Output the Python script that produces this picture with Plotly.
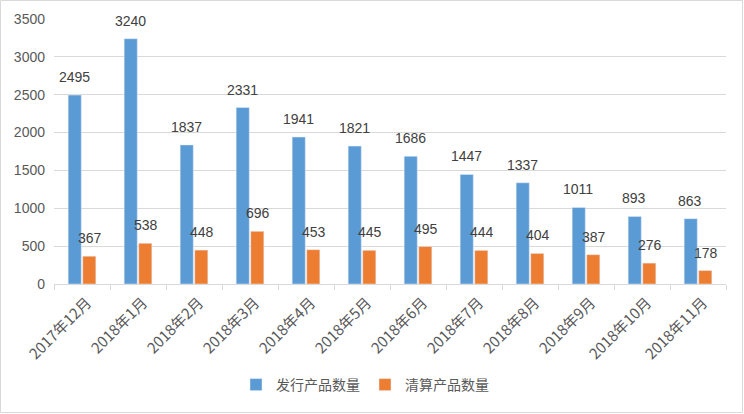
import plotly.graph_objects as go

categories = ["2017年12月", "2018年1月", "2018年2月", "2018年3月", "2018年4月", "2018年5月",
              "2018年6月", "2018年7月", "2018年8月", "2018年9月", "2018年10月", "2018年11月"]
issued = [2495, 3240, 1837, 2331, 1941, 1821, 1686, 1447, 1337, 1011, 893, 863]
cleared = [367, 538, 448, 696, 453, 445, 495, 444, 404, 387, 276, 178]
series_names = ["发行产品数量", "清算产品数量"]

W, H = 744, 414
ML, MR, MT, MB = 54, 18, 19, 130
PW, PH = W - ML - MR, H - MT - MB

font_cjk = "Noto Sans CJK SC, Liberation Sans, sans-serif"

fig = go.Figure()
fig.add_trace(go.Bar(x=categories, y=issued, name=series_names[0], marker_color="#5B9BD5"))
fig.add_trace(go.Bar(x=categories, y=cleared, name=series_names[1], marker_color="#ED7D31"))

annotations = []
for c, v in zip(categories, issued):
    annotations.append(dict(x=c, y=v, text=str(v), showarrow=False, xshift=-8, yshift=18,
                            font=dict(size=14, color="#404040", family="Liberation Sans")))
for c, v in zip(categories, cleared):
    annotations.append(dict(x=c, y=v, text=str(v), showarrow=False, xshift=8, yshift=18,
                            font=dict(size=14, color="#404040", family="Liberation Sans")))

fig.update_layout(
    width=W, height=H,
    margin=dict(l=ML, r=MR, t=MT, b=MB),
    paper_bgcolor="white", plot_bgcolor="white",
    barmode="group", bargap=0.48, bargroupgap=0.1,
    annotations=annotations,
    showlegend=True,
    legend=dict(orientation="h", x=(365 - ML) / PW, xanchor="center", y=(MT + PH - 385) / PH,
                yanchor="middle", font=dict(size=14, color="#595959", family=font_cjk),
                itemwidth=30, tracegroupgap=0),
    shapes=[dict(type="rect", xref="paper", yref="paper",
                 x0=(-ML + 0.5) / PW, x1=1 + (MR - 1.5) / PW,
                 y0=(-MB + 1.5) / PH, y1=1 + (MT - 0.5) / PH,
                 line=dict(color="#D9D9D9", width=1), layer="below")],
)
fig.update_xaxes(type="category", showline=True, linecolor="#D9D9D9", linewidth=1,
                 ticks="outside", tickson="boundaries", ticklen=5, tickcolor="#D9D9D9",
                 tickangle=-45, tickfont=dict(size=15, color="#595959", family=font_cjk),
                 ticklabelshift=5, ticklabelstandoff=3, showgrid=False)
fig.update_yaxes(range=[0, 3500], dtick=500, showgrid=True, gridcolor="#D9D9D9", gridwidth=1,
                 zeroline=False, showline=False, ticks="", ticklabelstandoff=8,
                 tickfont=dict(size=14, color="#595959", family="Liberation Sans"))

fig.write_html("out.html", config={"displayModeBar": False},
               post_script="document.body.style.margin='0';")
